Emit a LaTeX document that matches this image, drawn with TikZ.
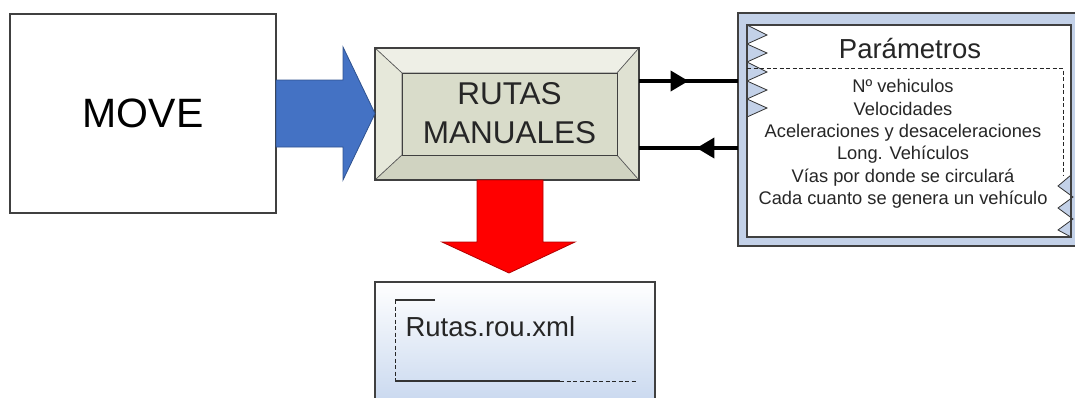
\documentclass[tikz,border=0pt]{standalone}
\usepackage{fontspec}
\setmainfont{Liberation Sans}
\usetikzlibrary{arrows.meta,calc,decorations.markings}
\definecolor{frameline}{HTML}{404040}
\definecolor{arrowblue}{HTML}{4472C4}
\definecolor{arrowblueline}{HTML}{2F528F}
\definecolor{paramblue}{HTML}{C3D1E8}
\definecolor{outblue}{HTML}{C6D6EE}
\definecolor{bevtop}{HTML}{EEEFE6}
\definecolor{bevleft}{HTML}{E6E8DA}
\definecolor{bevright}{HTML}{DFE1D2}
\definecolor{bevbottom}{HTML}{D0D3C1}
\definecolor{bevface}{HTML}{D9DCCA}
\tikzset{
  plainbox/.style={draw=frameline, line width=1.2pt, outer sep=0pt, inner sep=0pt},
  bevelpart/.style={draw=gray!70!black, line width=0.6pt},
  flowline/.style={line width=4pt, draw=black, postaction={decorate},
    decoration={markings, mark=at position #1 with {\arrow{Triangle[length=18pt,width=20pt]}}}},
  flowline/.default=0.5,
  dashframe/.style={draw=black!85, line width=1pt, dash pattern=on 4pt off 2.5pt},
  zigzagfill/.style={fill=paramblue, draw=black!80, line width=0.8pt},
}
\begin{document}
\begin{tikzpicture}[x=1pt,y=-1pt]
\useasboundingbox (0,0) rectangle (1075,397);
\clip (0,0) rectangle (1075,397);

% MOVE box
\node[plainbox, fill=white, minimum width=266pt, minimum height=199pt,
      font=\fontsize{41}{41}\selectfont] (move) at (143,113.5) {MOVE};

% RUTAS MANUALES bevel box
\node[outer sep=0pt, inner sep=0pt, minimum width=264pt, minimum height=132pt] (rutas) at (507,114) {};
\fill[bevtop, bevelpart] (375,48) -- (639,48) -- (617,73) -- (402,73) -- cycle;
\fill[bevleft, bevelpart] (375,48) -- (402,73) -- (402,155) -- (375,180) -- cycle;
\fill[bevbottom, bevelpart] (375,180) -- (402,155) -- (617,155) -- (639,180) -- cycle;
\fill[bevright, bevelpart] (639,48) -- (617,73) -- (617,155) -- (639,180) -- cycle;
\filldraw[fill=bevface, draw=frameline, line width=1pt] (402,73) rectangle (617,155);
\draw[frameline, line width=1.2pt] (rutas.north west) rectangle (rutas.south east);
\node[align=center, font=\fontsize{31.5}{39}\selectfont, text=black!85] (rutaslabel) at (509.5,113) {RUTAS\\MANUALES};

% Blue block arrow MOVE -> RUTAS
\filldraw[fill=arrowblue, draw=arrowblueline, line width=0.8pt]
  (move.east |- 0,80) -- (343,80) -- (343,47) -- (rutas.west |- 0,113.5) -- (343,180) -- (343,147) -- (move.east |- 0,147) -- cycle;

% Parametros box
\node[draw=frameline, line width=1.2pt, fill=paramblue, outer sep=0pt, inner sep=0pt,
      minimum width=344pt, minimum height=233pt] (param) at (910,129.5) {};
\fill[white] (747,25) rectangle (1071,237);
% left zigzag
\filldraw[zigzagfill]
  (747,25) -- (767,35) -- (747,44) -- (767,53) -- (747,62) -- (767,72) -- (747,81) -- (767,90) -- (747,99) -- (767,108) -- (747,117);
% right zigzag
\filldraw[zigzagfill]
  (1071,175) -- (1058,186) -- (1073,197) -- (1058,208) -- (1073,219) -- (1058,230) -- (1071,237);
\draw[frameline, line width=1.2pt] (747,25) rectangle (1071,237);
\draw[dashframe] (747,68) -- (1063,68) -- (1063,176);
\node[font=\fontsize{27.5}{27.5}\selectfont, text=black!85] (ptitle) at (910,49) {Parámetros};
\node[align=center, font=\fontsize{18.3}{22.4}\selectfont, text=black!85] (plist) at (903,144)
  {Nº vehiculos\\Velocidades\\Aceleraciones y desaceleraciones\\Long. Vehículos\\Vías por donde se circulará\\Cada cuanto se genera un vehículo};

% connectors between RUTAS and Parametros
\draw[flowline=0.5] (rutas.east |- 0,81) -- (param.west |- 0,81);
\draw[flowline=0.42] (param.west |- 0,148) -- (rutas.east |- 0,148);

% Output box
\shade[top color=white, bottom color=outblue] (375,282) rectangle (655,410);
\node[outer sep=0pt, inner sep=0pt, minimum width=280pt, minimum height=128pt] (out) at (515,346) {};
\draw[frameline, line width=1.2pt] (out.south west) -- (out.north west) -- (out.north east) -- (out.south east);
\draw[black!80, line width=1.2pt] (435,300) -- (395,300);
\draw[dashframe] (395,300) -- (395,381);
\draw[black!80, line width=1.2pt] (395,381) -- (560,381);
\draw[dashframe] (560,381) -- (637,381);
\node[anchor=west, font=\fontsize{27.5}{27.5}\selectfont, text=black!85] (outlabel) at (402,327) {Rutas.rou.xml};

% Red block arrow RUTAS -> output
\filldraw[fill=red, draw=red!70!black, line width=0.8pt]
  (477,180) -- (543,180) -- (543,242) -- (575,242) -- (509,273) -- (442,242) -- (477,242) -- cycle;
\end{tikzpicture}
\end{document}
